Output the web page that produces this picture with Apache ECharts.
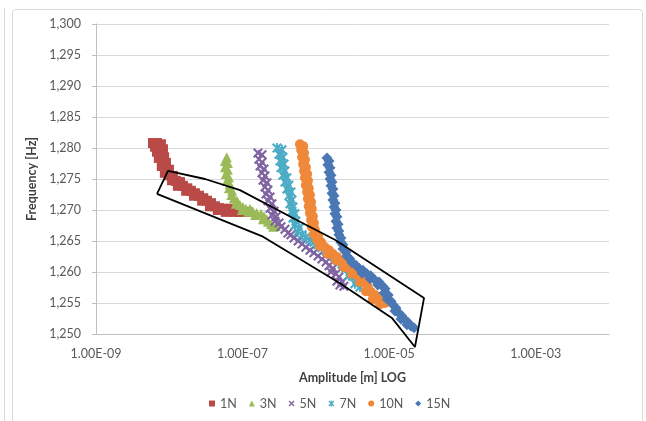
<!DOCTYPE html>
<html>
<head>
<meta charset="utf-8">
<script src="https://cdn.jsdelivr.net/npm/echarts@6/dist/echarts.min.js"></script>
<style>
  html, body { margin: 0; padding: 0; background: #fff; }
  #chart { width: 646px; height: 421px; }
</style>
</head>
<body>
<div id="chart"></div>
<script>
// Legend / series names
const seriesNames = ['1N', '3N', '5N', '7N', '10N', '15N'];

// Y axis (frequency) range and step
const freqMin = 1250;
const freqMax = 1300;
const freqStep = 5;

// X axis (amplitude, log) range in metres
const ampMin = 1e-9;
const ampMax = 1e-2;

// Measured points: [amplitude (m), frequency (Hz)]
const data1N = [
  [6.0e-9, 1280.8], [6.8e-9, 1280.8], [7.7e-9, 1280.6], [6.4e-9, 1280.2], [7.2e-9, 1280.0],
  [8.2e-9, 1279.8], [6.8e-9, 1279.4], [7.7e-9, 1279.0], [8.5e-9, 1278.5], [7.2e-9, 1278.4],
  [8.2e-9, 1277.9], [9.0e-9, 1277.6], [7.9e-9, 1277.1], [9.0e-9, 1276.8], [9.9e-9, 1276.5],
  [8.7e-9, 1276.0], [9.9e-9, 1275.6], [1.12e-8, 1275.5], [1.09e-8, 1274.8], [1.23e-8, 1274.7],
  [1.40e-8, 1274.5], [1.31e-8, 1273.9], [1.54e-8, 1273.9], [1.76e-8, 1273.5], [1.70e-8, 1273.1],
  [1.97e-8, 1273.1], [2.24e-8, 1272.7], [2.17e-8, 1272.3], [2.54e-8, 1272.3], [2.91e-8, 1271.9],
  [2.81e-8, 1271.5], [3.27e-8, 1271.5], [3.71e-8, 1271.1], [3.59e-8, 1270.6], [4.20e-8, 1270.6],
  [4.76e-8, 1270.3], [4.6e-8, 1270.0], [5.4e-8, 1270.2], [6.2e-8, 1269.8], [5.9e-8, 1269.7],
  [6.9e-8, 1269.8], [7.9e-8, 1269.7], [8.9e-8, 1269.7], [1.01e-7, 1269.7], [1.15e-7, 1269.7],
  [8.1e-8, 1270.0], [6.7e-8, 1270.2]
];

const data3N = [
  [6.1e-8, 1278.5], [5.75e-8, 1277.9], [6.3e-8, 1277.6], [5.75e-8, 1276.9], [6.3e-8, 1276.5],
  [5.9e-8, 1275.8], [6.5e-8, 1275.3], [6.1e-8, 1274.7], [6.7e-8, 1274.2], [6.5e-8, 1273.5],
  [7.2e-8, 1273.1], [7.0e-8, 1272.4], [7.6e-8, 1271.9], [8.4e-8, 1271.5], [8.1e-8, 1271.0],
  [9.2e-8, 1270.8], [1.01e-7, 1270.5], [1.11e-7, 1270.2], [9.8e-8, 1270.0], [1.26e-7, 1270.2],
  [1.19e-7, 1269.7], [1.38e-7, 1269.8], [1.56e-7, 1269.5], [1.48e-7, 1269.2], [1.78e-7, 1269.4],
  [1.96e-7, 1269.0], [1.90e-7, 1268.5], [2.15e-7, 1268.5], [2.22e-7, 1268.1], [2.45e-7, 1267.7],
  [2.61e-7, 1267.3], [2.86e-7, 1267.4]
];

const data5N = [
  [1.62e-7, 1279.2], [1.84e-7, 1278.9], [1.67e-7, 1278.2], [1.84e-7, 1277.7], [1.73e-7, 1277.1],
  [1.96e-7, 1276.6], [1.84e-7, 1276.0], [2.02e-7, 1275.5], [1.90e-7, 1274.8], [2.15e-7, 1274.4],
  [2.02e-7, 1273.7], [2.22e-7, 1273.2], [2.08e-7, 1272.6], [2.37e-7, 1272.1], [2.22e-7, 1271.5],
  [2.52e-7, 1271.0], [2.37e-7, 1270.3], [2.69e-7, 1269.8], [2.52e-7, 1269.2], [2.86e-7, 1268.9],
  [2.77e-7, 1268.2], [3.14e-7, 1267.9], [3.34e-7, 1267.3], [3.79e-7, 1266.9], [4.16e-7, 1266.3],
  [4.57e-7, 1266.0], [5.03e-7, 1265.5], [5.73e-7, 1265.0], [6.5e-7, 1264.5], [7.3e-7, 1264.0],
  [8.3e-7, 1263.5], [9.4e-7, 1263.1], [1.07e-6, 1262.6], [1.21e-6, 1262.1], [1.38e-6, 1261.6],
  [1.51e-6, 1261.0], [1.71e-6, 1260.6], [1.61e-6, 1260.0], [1.88e-6, 1259.7], [2.06e-6, 1259.2],
  [1.94e-6, 1258.5], [2.27e-6, 1258.4], [2.41e-6, 1257.7], [2.13e-6, 1257.9]
];

const data7N = [
  [2.95e-7, 1280.0], [3.45e-7, 1279.7], [3.14e-7, 1279.0], [3.56e-7, 1278.5], [3.24e-7, 1277.9],
  [3.68e-7, 1277.4], [3.34e-7, 1276.8], [3.79e-7, 1276.3], [3.56e-7, 1275.6], [4.03e-7, 1275.2],
  [3.79e-7, 1274.5], [4.29e-7, 1274.0], [4.03e-7, 1273.4], [4.57e-7, 1272.9], [4.29e-7, 1272.3],
  [4.72e-7, 1271.6], [4.43e-7, 1271.0], [4.87e-7, 1270.5], [4.72e-7, 1269.8], [5.19e-7, 1269.4],
  [4.87e-7, 1268.7], [5.35e-7, 1268.2], [5.19e-7, 1267.6], [5.9e-7, 1267.1], [5.7e-7, 1266.5],
  [6.5e-7, 1266.0], [7.3e-7, 1265.6], [8.3e-7, 1265.2], [9.4e-7, 1264.8], [1.07e-6, 1264.4],
  [1.21e-6, 1263.9], [1.38e-6, 1263.4], [1.56e-6, 1262.9], [1.77e-6, 1262.4], [2.01e-6, 1261.8],
  [2.27e-6, 1261.3], [2.57e-6, 1260.6], [2.92e-6, 1260.0], [3.21e-6, 1259.4], [3.64e-6, 1258.7],
  [3.41e-6, 1258.1], [4.0e-6, 1257.6], [2.83e-6, 1259.4]
];

const data10N = [
  [6.07e-7, 1280.6], [6.7e-7, 1280.3], [6.3e-7, 1279.7], [6.9e-7, 1279.2], [6.5e-7, 1278.5],
  [7.1e-7, 1278.1], [6.7e-7, 1277.4], [7.3e-7, 1276.9], [6.9e-7, 1276.3], [7.6e-7, 1275.8],
  [7.1e-7, 1275.2], [7.8e-7, 1274.7], [7.3e-7, 1274.0], [8.0e-7, 1273.5], [7.6e-7, 1272.9],
  [8.3e-7, 1272.4], [7.8e-7, 1271.8], [8.6e-7, 1271.3], [8.0e-7, 1270.6], [8.8e-7, 1270.2],
  [8.3e-7, 1269.5], [9.1e-7, 1269.0], [8.6e-7, 1268.4], [9.4e-7, 1267.9], [8.8e-7, 1267.3],
  [9.7e-7, 1266.8], [9.4e-7, 1266.1], [1.07e-6, 1265.8], [1.04e-6, 1265.2], [1.18e-6, 1264.8],
  [1.14e-6, 1264.2], [1.33e-6, 1264.0], [1.51e-6, 1263.5], [1.46e-6, 1262.9], [1.71e-6, 1262.9],
  [1.94e-6, 1262.4], [1.88e-6, 1261.9], [2.20e-6, 1261.7], [2.49e-6, 1261.3], [2.41e-6, 1260.8],
  [2.83e-6, 1260.6], [3.21e-6, 1260.2], [3.11e-6, 1259.7], [3.64e-6, 1259.5], [4.13e-6, 1259.0],
  [4.0e-6, 1258.4], [4.68e-6, 1258.2], [5.1e-6, 1257.6], [4.83e-6, 1256.9], [5.6e-6, 1256.8],
  [6.4e-6, 1256.3], [6.0e-6, 1255.6], [7.0e-6, 1255.6], [8.0e-6, 1255.3], [8.8e-6, 1255.0],
  [7.5e-6, 1254.8]
];

const data15N = [
  [1.42e-6, 1278.4], [1.51e-6, 1277.9], [1.46e-6, 1277.3], [1.56e-6, 1276.8], [1.51e-6, 1276.1],
  [1.61e-6, 1275.6], [1.56e-6, 1275.0], [1.66e-6, 1274.5], [1.61e-6, 1273.9], [1.71e-6, 1273.4],
  [1.66e-6, 1272.7], [1.77e-6, 1272.3], [1.71e-6, 1271.6], [1.82e-6, 1271.1], [1.77e-6, 1270.5],
  [1.88e-6, 1270.0], [1.82e-6, 1269.4], [1.94e-6, 1268.9], [1.88e-6, 1268.2], [2.01e-6, 1267.7],
  [1.94e-6, 1267.1], [2.06e-6, 1266.6], [2.06e-6, 1266.0], [2.20e-6, 1265.5], [2.20e-6, 1264.8],
  [2.34e-6, 1264.4], [2.34e-6, 1263.7], [2.57e-6, 1263.2], [2.65e-6, 1262.6], [2.92e-6, 1262.1],
  [3.11e-6, 1261.5], [3.52e-6, 1261.1], [3.87e-6, 1260.6], [4.39e-6, 1260.3], [4.26e-6, 1259.8],
  [4.98e-6, 1259.7], [5.6e-6, 1259.4], [5.5e-6, 1258.9], [6.4e-6, 1258.7], [7.3e-6, 1258.4],
  [7.0e-6, 1257.9], [8.2e-6, 1257.7], [8.8e-6, 1257.3], [8.5e-6, 1256.6], [9.7e-6, 1256.3],
  [9.4e-6, 1255.6], [1.06e-5, 1255.3], [1.13e-5, 1254.7], [1.24e-5, 1254.2], [1.20e-5, 1253.7],
  [1.36e-5, 1253.4], [1.49e-5, 1252.9], [1.45e-5, 1252.4], [1.64e-5, 1252.3], [1.80e-5, 1251.9],
  [1.75e-5, 1251.5], [1.98e-5, 1251.3], [2.18e-5, 1251.0]
];

// Hand-drawn outline around the common resonance trend: [amplitude (m), frequency (Hz)]
const envelope = [
  [6.8e-9, 1272.6], [9.6e-9, 1276.3], [3.07e-8, 1275.0], [9.22e-8, 1273.2],
  [6.07e-7, 1268.1], [1.82e-6, 1265.2], [2.99e-5, 1255.8], [2.25e-5, 1247.9],
  [1.09e-5, 1252.6], [2.13e-6, 1258.2], [1.90e-7, 1265.7], [6.8e-9, 1272.6]
];

const FONT = 'Lato';
const colors = ['#B94A47', '#9BBB59', '#8064A2', '#4BACC6', '#F0883A', '#4A78B4'];
const crossPath = 'path://M1.5,0 L5,3.5 L8.5,0 L10,1.5 L6.5,5 L10,8.5 L8.5,10 L5,6.5 L1.5,10 L0,8.5 L3.5,5 L0,1.5 Z';
const starPath = 'path://M1.5,0 L5,3.5 L8.5,0 L10,1.5 L6.5,5 L10,8.5 L8.5,10 L5,6.5 L1.5,10 L0,8.5 L3.5,5 L0,1.5 Z M4.1,0 L5.9,0 L5.9,10 L4.1,10 Z';
const symbols = ['rect', 'triangle', crossPath, starPath, 'circle', 'diamond'];
const sizes = [10, 10, 10, 10, 10, 11];
const seriesData = [data1N, data3N, data5N, data7N, data10N, data15N];

function formatAmp(v) {
  const e = Math.round(Math.log10(v));
  const s = Math.abs(e) < 10 ? '0' + Math.abs(e) : String(Math.abs(e));
  return '1.00E' + (e < 0 ? '-' : '+') + s;
}

const chart = echarts.init(document.getElementById('chart'), null, { renderer: 'canvas' });

const scatterSeries = seriesNames.map((name, i) => ({
  name: name,
  type: 'scatter',
  data: seriesData[i],
  symbol: symbols[i],
  symbolSize: sizes[i],
  itemStyle: { color: colors[i], opacity: 1 },
  z: 2 + i,
  silent: true
}));

chart.setOption({
  animation: false,
  textStyle: { fontFamily: FONT },
  graphic: [
    { type: 'rect', shape: { x: 12.5, y: 9.5, width: 630, height: 420, r: 3 },
      style: { fill: 'none', stroke: '#D9D9D9', lineWidth: 1 }, z: -1 },
    { type: 'line', shape: { x1: 4.5, y1: 8, x2: 4.5, y2: 421 },
      style: { stroke: '#D9D9D9', lineWidth: 1 }, z: -1 }
  ],
  grid: { left: 96, right: 37, top: 24, bottom: 87, containLabel: false },
  legend: {
    data: seriesNames.map((n, i) => ({ name: n, icon: symbols[i] })),
    left: 204,
    bottom: 6,
    itemWidth: 6,
    itemHeight: 6,
    itemGap: 12,
    textStyle: { color: '#595959', fontSize: 12.5, fontFamily: FONT }
  },
  xAxis: {
    type: 'log',
    logBase: 10,
    min: ampMin,
    max: ampMax,
    name: 'Amplitude [m] LOG',
    nameLocation: 'middle',
    nameGap: 37,
    nameTextStyle: { color: '#404040', fontWeight: 'bold', fontSize: 12.5, fontFamily: FONT },
    axisLine: { show: true, lineStyle: { color: '#BFBFBF' } },
    axisTick: { show: false },
    splitLine: { show: false },
    minorTick: { show: false },
    axisLabel: {
      color: '#595959',
      fontSize: 12.5,
      margin: 13,
      fontFamily: FONT,
      showMinLabel: true,
      formatter: function (v) {
        const e = Math.round(Math.log10(v));
        return ((e + 9) % 2 === 0 && e <= -3) ? formatAmp(v) : '';
      }
    }
  },
  yAxis: {
    type: 'value',
    min: freqMin,
    max: freqMax,
    interval: freqStep,
    name: 'Frequency [Hz]',
    nameLocation: 'middle',
    nameRotate: 90,
    nameGap: 54,
    nameTextStyle: { color: '#404040', fontWeight: 'bold', fontSize: 12.5, fontFamily: FONT },
    axisLine: { show: true, lineStyle: { color: '#BFBFBF' } },
    axisTick: { show: true, length: 4, inside: false, lineStyle: { color: '#BFBFBF' } },
    splitLine: { show: true, lineStyle: { color: '#D9D9D9', width: 1 } },
    axisLabel: {
      color: '#595959',
      fontSize: 12.5,
      margin: 15,
      fontFamily: FONT,
      formatter: function (v) { return v.toLocaleString('en-US'); }
    }
  },
  series: scatterSeries.concat([{
    name: 'outline',
    type: 'line',
    data: envelope,
    symbol: 'none',
    clip: false,
    silent: true,
    z: 20,
    lineStyle: { color: '#000000', width: 1.8 }
  }])
});
</script>
</body>
</html>
